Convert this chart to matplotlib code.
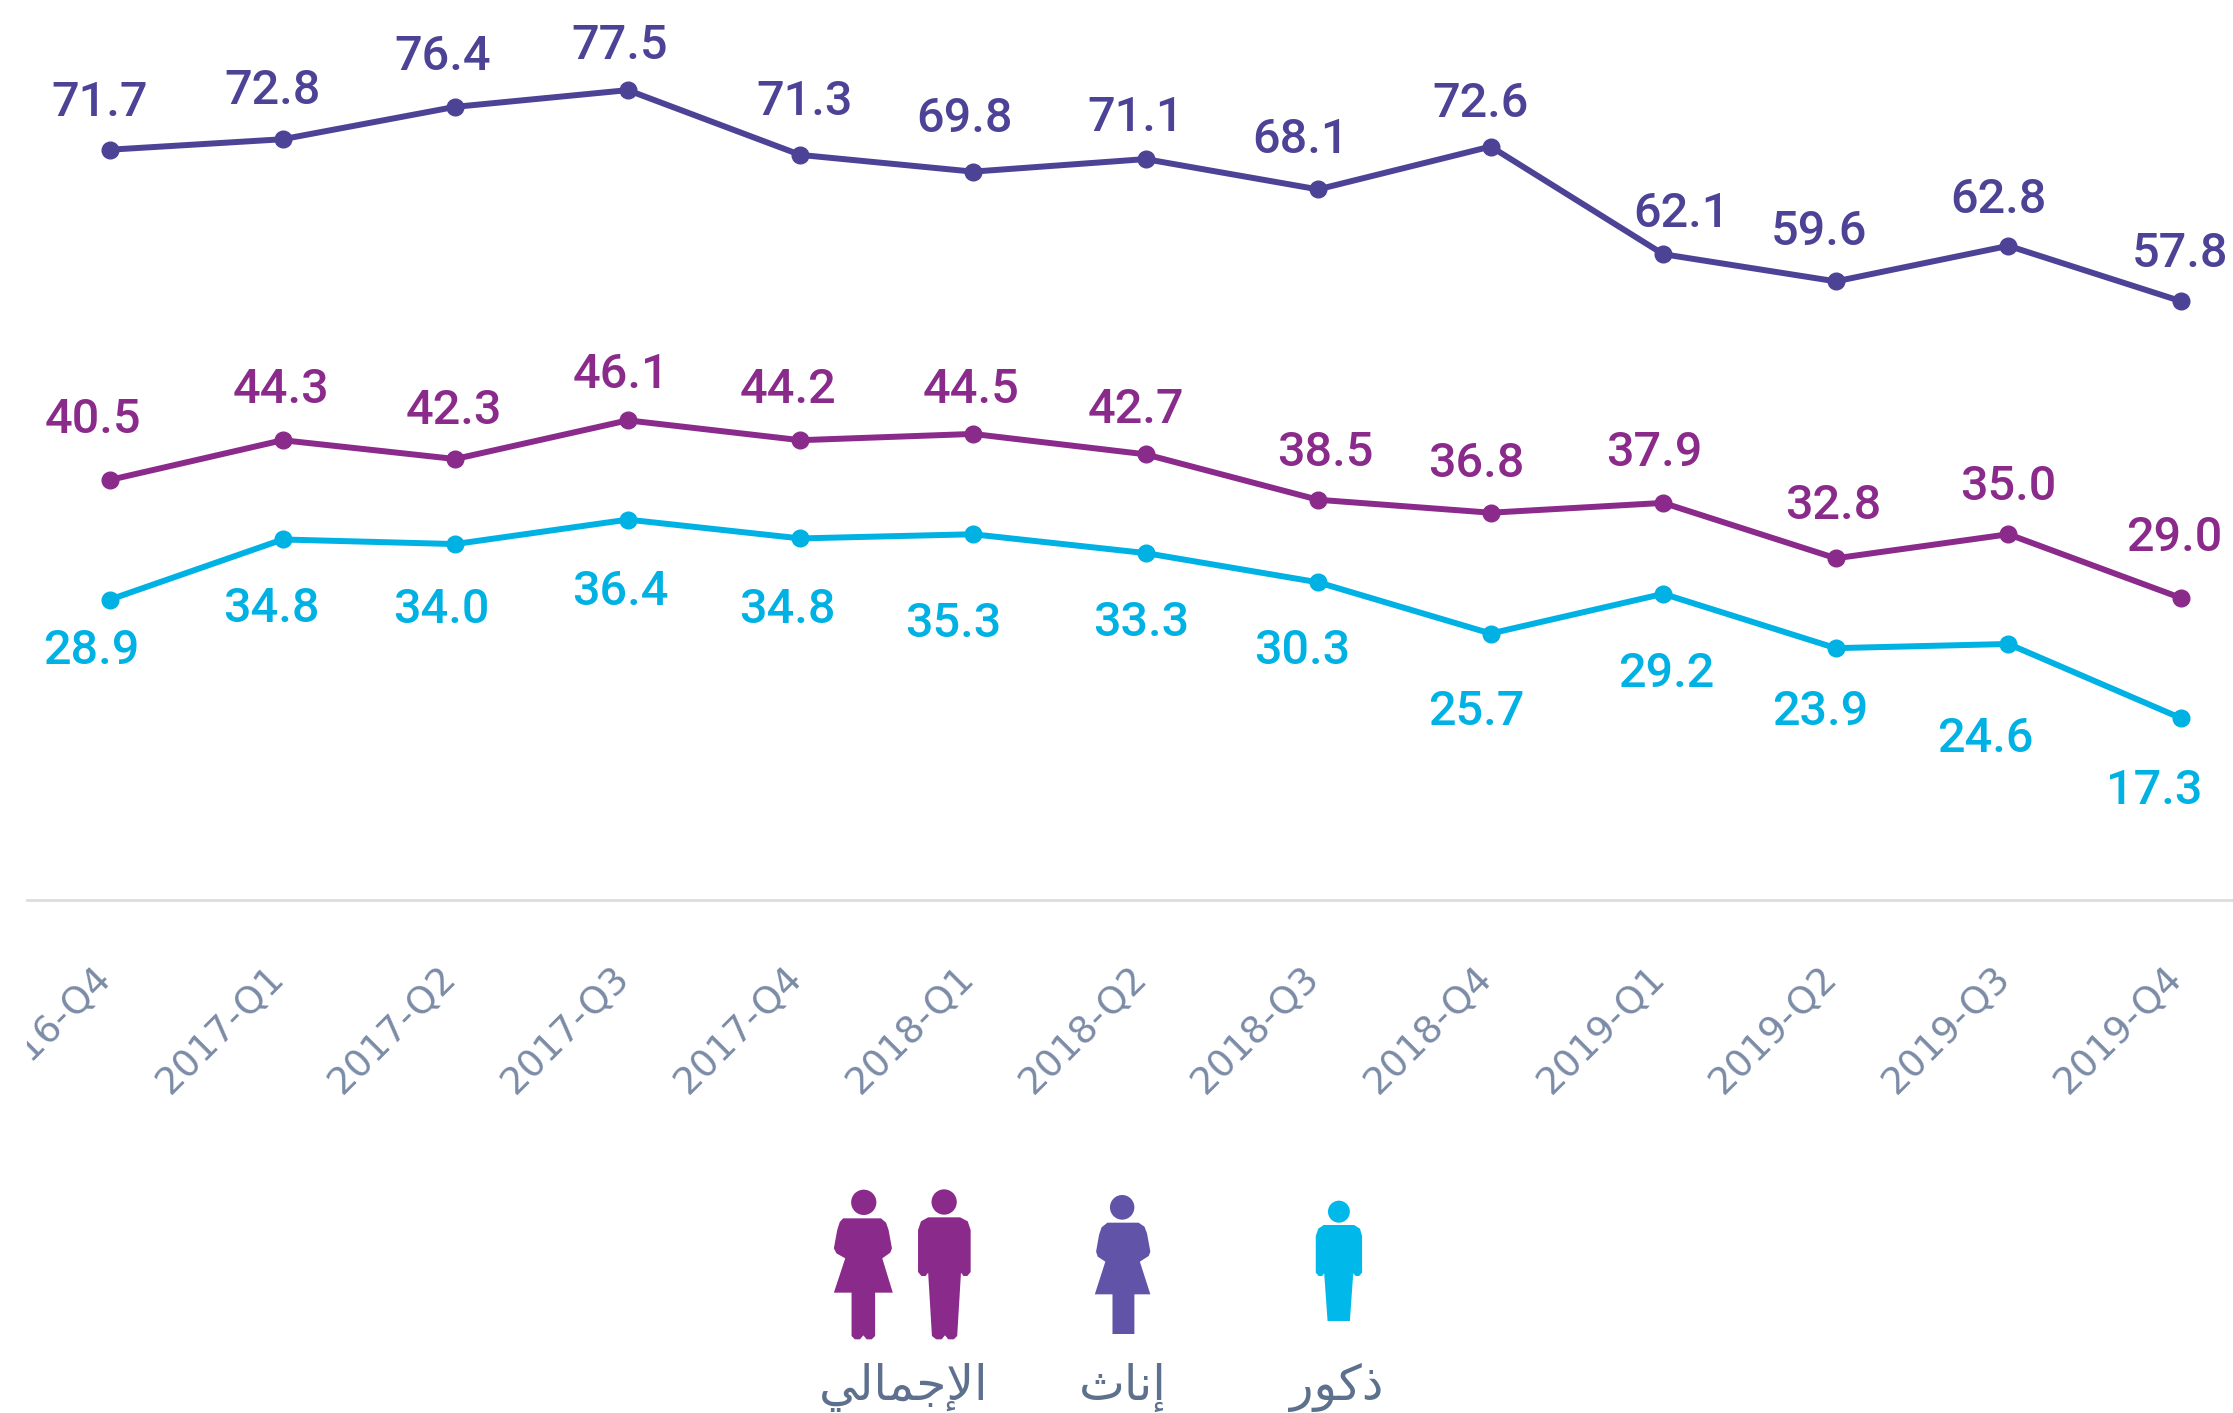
import matplotlib
matplotlib.use("Agg")
import matplotlib.pyplot as plt
from matplotlib.patches import Ellipse, Polygon
from matplotlib.transforms import Bbox, ScaledTranslation

tick_labels = ["2016-Q4", "2017-Q1", "2017-Q2", "2017-Q3", "2017-Q4",
               "2018-Q1", "2018-Q2", "2018-Q3", "2018-Q4",
               "2019-Q1", "2019-Q2", "2019-Q3", "2019-Q4"]
# numbers printed on the chart
total_labels = [71.7, 72.8, 76.4, 77.5, 71.3, 69.8, 71.1, 68.1, 72.6, 62.1, 59.6, 62.8, 57.8]
female_labels = [40.5, 44.3, 42.3, 46.1, 44.2, 44.5, 42.7, 38.5, 36.8, 37.9, 32.8, 35.0, 29.0]
male_labels = [28.9, 34.8, 34.0, 36.4, 34.8, 35.3, 33.3, 30.3, 25.7, 29.2, 23.9, 24.6, 17.3]
# heights the points are actually drawn at in the reference, they drift a bit from the printed numbers
total = [71.8, 72.8, 75.9, 77.5, 71.3, 69.7, 70.9, 68.0, 72.1, 61.8, 59.2, 62.6, 57.3]
female = [40.2, 44.0, 42.2, 45.9, 44.0, 44.6, 42.65, 38.3, 37.06, 38.0, 32.7, 35.0, 28.9]
male = [28.75, 34.5, 34.06, 36.4, 34.6, 35.0, 33.2, 30.4, 25.5, 29.3, 24.1, 24.5, 17.4]

# label offsets from each point, in px of the shrunk reference (dx, dy up)
total_off = [(-7, 35), (-7, 36), (-9, 37), (-6, 33), (3, 39), (-6, 39), (-7, 31), (-12, 37),
             (-7, 32), (13, 30), (-12, 37), (-7, 34), (-1, 35)]
female_off = [(-12, 44), (-1, 37), (-1, 36), (-5, 34), (-9, 37), (-1, 33), (-7, 33), (5, 35),
              (-10, 36), (-6, 37), (-2, 39), (0, 35), (-5, 44)]
male_off = [(-13, -34), (-8, -47), (-10, -44), (-5, -49), (-9, -48), (-14, -61), (-3, -47),
            (-11, -46), (-10, -53), (2, -54), (-11, -43), (-16, -65), (-19, -49)]

# arabic in presentation forms, visual order (matplotlib does no shaping)
legend_total = "\uFEF2\uFEDF\uFE8E\uFEE4\uFE9F\uFEF9\uFE8D"
legend_female = "\uFE99\uFE8E\uFEE7\uFE87"
legend_male = "\uFEAD\uFEEE\uFEDB\uFEAB"

NAVY = "#4c4396"
PURPLE = "#8a2a8b"
CYAN = "#00b1e4"
ICON_MID = "#6153a7"
ICON_CYAN = "#00b9ea"
GREY_TEXT = "#7b8ba6"
LEGEND_TEXT = "#5d708d"

W, H = 2233, 1413
plt.rcParams['font.family'] = ['Roboto', 'DejaVu Sans']
fig = plt.figure(figsize=(W / 100, H / 100), dpi=100)
ax = fig.add_axes([27 / W, (H - 900) / H, (W - 27) / W, 900 / H])
xs = list(range(len(tick_labels)))

for values, labels, offs, color in [(total, total_labels, total_off, NAVY),
                                    (female, female_labels, female_off, PURPLE),
                                    (male, male_labels, male_off, CYAN)]:
    ax.plot(xs, values, color=color, lw=4.3, marker='o', ms=12, clip_on=False, zorder=3)
    for x, v, lab, (dx, dy) in zip(xs, values, labels, offs):
        ax.annotate(f"{lab:.1f}", (x, v), xytext=(dx * 1.424 * 0.72, (dy - 2) * 1.424 * 0.72),
                    textcoords='offset points', ha='center', va='center',
                    color=color, fontsize=35, fontweight='medium', annotation_clip=False)

step = (2181 - 110) / 12
ax.set_xlim(-83 / step, 12 + 52 / step)
ax.set_ylim(0, 900 / 10.45)
ax.set_yticks([])
ax.set_xticks(xs)
ax.set_xticklabels(tick_labels, rotation=45, ha='right', va='center', rotation_mode='anchor',
                   fontsize=27, color=GREY_TEXT, family=['DejaVu Sans'])
ax.tick_params(axis='x', length=0, pad=52)
clip = Bbox([[27, 0], [W, H]])
nudge = ScaledTranslation(-3 / 72, 0, fig.dpi_scale_trans)
for lab in ax.get_xticklabels():
    lab.set_transform(lab.get_transform() + nudge)
    lab.set_clip_box(clip)
    lab.set_clip_on(True)
for s in ['top', 'left', 'right']:
    ax.spines[s].set_visible(False)
ax.spines['bottom'].set_color('#dddddd')
ax.spines['bottom'].set_linewidth(2)
ax.patch.set_alpha(0)

# legend icons, drawn in coordinates of the crop of the legend area (x*2.376, y*3)
leg = fig.add_axes([0, 0, 1, 1], zorder=5)
leg.set_xlim(-780 * 2.376, (W - 780) * 2.376)
leg.set_ylim((H - 1150) * 3, -1150 * 3)
leg.axis('off')

woman_purple = [(150, 205), (240, 205), (252, 218), (258, 240), (266, 295), (262, 308), (243, 325), (268, 428),
                (226, 428), (226, 558), (218, 568), (206, 568), (198, 556), (190, 568), (178, 568), (170, 558),
                (170, 428), (128, 428), (155, 325), (134, 310), (128, 295), (136, 240), (142, 216)]
man_purple = [(352, 202), (428, 202), (446, 214), (453, 240), (453, 366), (445, 378), (436, 378), (430, 368),
              (421, 558), (413, 568), (400, 568), (392, 556), (384, 568), (371, 568), (361, 558), (352, 368),
              (346, 378), (336, 378), (328, 366), (328, 240), (335, 214)]
woman_mid = [(778, 218), (852, 218), (866, 230), (872, 250), (880, 305), (876, 318), (855, 335), (880, 433),
             (842, 433), (842, 552), (790, 552), (790, 433), (748, 433), (773, 335), (755, 320), (751, 305),
             (758, 255), (764, 232)]
man_cyan = [(1292, 225), (1364, 225), (1378, 236), (1383, 258), (1383, 368), (1376, 378), (1368, 378), (1362, 370),
            (1354, 513), (1301, 513), (1293, 370), (1288, 378), (1280, 378), (1273, 368), (1273, 258), (1279, 236)]

for pts, color, head in [(woman_purple, PURPLE, (199, 157, 60, 76)),
                         (man_purple, PURPLE, (390, 156, 60, 76)),
                         (woman_mid, ICON_MID, (813, 172, 58, 74)),
                         (man_cyan, ICON_CYAN, (1328, 185, 52, 66))]:
    leg.add_patch(Polygon(pts, closed=True, fc=color, ec='none'))
    leg.add_patch(Ellipse(head[:2], head[2], head[3], fc=color, ec='none'))

for x, txt in [(293, legend_total), (815, legend_female), (1322, legend_male)]:
    leg.text(x, 712, txt, ha='center', va='center', fontsize=35, color=LEGEND_TEXT, family=['DejaVu Sans'])

fig.savefig("out.png", dpi=100)
